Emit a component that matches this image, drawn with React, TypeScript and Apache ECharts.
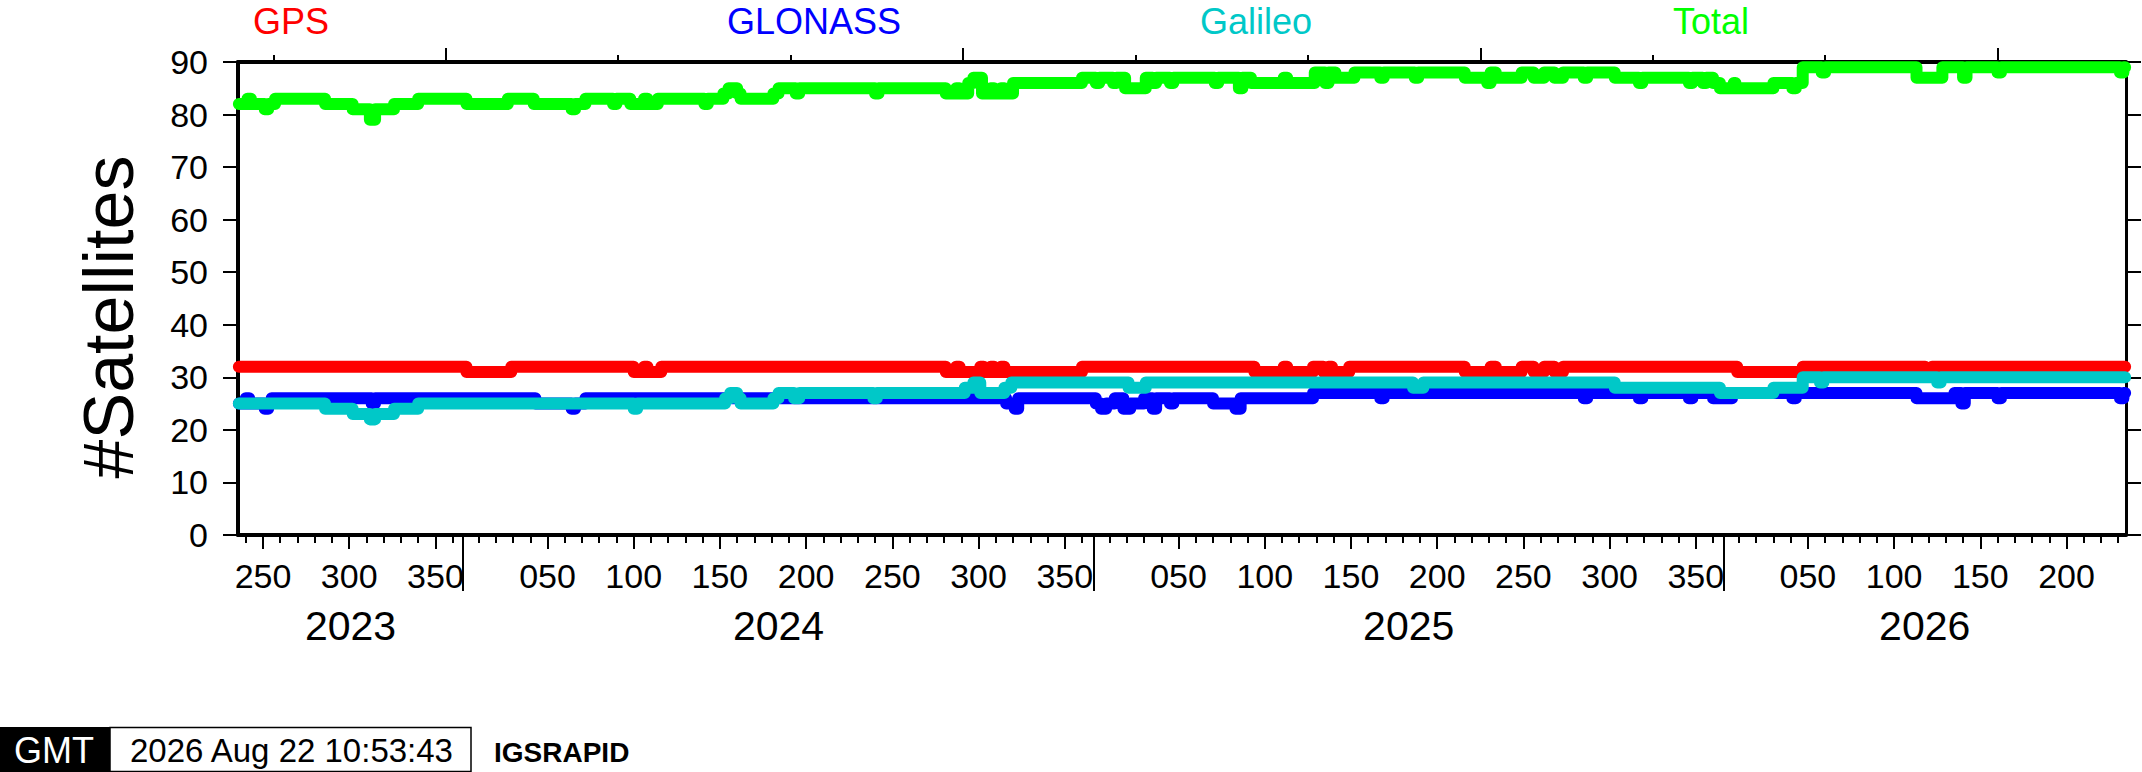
import React, { useEffect, useRef } from "react";
import * as echarts from "echarts";

const FONT = '"Liberation Sans", Helvetica, Arial, sans-serif';

// ---- axis definitions (MJD on x) ----
const YEARS = [2023, 2024, 2025, 2026];
const YEAR_START_MJD = [59945, 60310, 60676, 61041];
const X_MIN = 60179.5;
const X_MAX = 61274.5;
const Y_MIN = 0;
const Y_MAX = 90;
const Y_STEP = 10;
const DOY_LABEL_STEP = 50;
const DOY_MINOR_STEP = 10;
const TOP_MINOR_STEP = 100;
const TOP_MAJOR_STEP = 300;

const SERIES_NAMES = ["GPS", "GLONASS", "Galileo", "Total"];
const SERIES_COLORS = ["#ff0000", "#0000ff", "#00c8c8", "#00ff00"];

// ---- data: change points [MJD, number of satellites] ----
const GPS = [
  [60180, 32], [60312, 31], [60338, 32], [60409, 31], [60415, 32], [60417, 31], [60425, 32],
  [60590, 31], [60596, 32], [60598, 31], [60610, 32], [60612, 31], [60616, 32], [60618, 31],
  [60622, 32], [60624, 31], [60669, 32], [60769, 31], [60786, 32], [60788, 31], [60803, 32],
  [60809, 31], [60812, 32], [60814, 31], [60824, 32], [60891, 31], [60906, 32], [60909, 31],
  [60924, 32], [60931, 31], [60937, 32], [60943, 31], [60948, 32], [61049, 31], [61087, 32],
  [61158, 31], [61162, 32], [61274, 32],
];

const GLONASS = [
  [60180, 25], [60184, 26], [60186, 25], [60195, 24], [60197, 25], [60199, 26], [60257, 25],
  [60259, 26], [60352, 25], [60373, 24], [60375, 25], [60381, 26], [60625, 25], [60630, 24],
  [60632, 26], [60677, 25], [60680, 24], [60683, 25], [60688, 26], [60693, 24], [60697, 25],
  [60705, 26], [60710, 24], [60712, 26], [60720, 25], [60722, 26], [60745, 25], [60758, 24],
  [60761, 26], [60803, 27], [60842, 26], [60844, 27], [60960, 26], [60962, 27], [60992, 26],
  [60994, 27], [61021, 26], [61023, 27], [61035, 26], [61046, 27], [61081, 26], [61083, 27],
  [61153, 26], [61175, 27], [61179, 25], [61181, 27], [61200, 26], [61202, 27], [61271, 26],
  [61273, 27], [61274, 27],
];

const GALILEO = [
  [60180, 25], [60230, 24], [60246, 23], [60256, 22], [60259, 23], [60270, 24], [60284, 25],
  [60409, 24], [60411, 25], [60462, 26], [60465, 27], [60469, 26], [60471, 25], [60490, 26],
  [60493, 27], [60502, 26], [60505, 27], [60548, 26], [60550, 27], [60601, 28], [60606, 29],
  [60610, 27], [60624, 28], [60628, 29], [60696, 28], [60706, 29], [60861, 28], [60867, 29],
  [60978, 28], [61039, 27], [61070, 28], [61087, 30], [61097, 29], [61099, 30], [61165, 29],
  [61167, 30], [61274, 30],
];

const TOTAL = [
  [60180, 82], [60185, 83], [60187, 82], [60195, 81], [60197, 82], [60201, 83], [60230, 82],
  [60246, 81], [60256, 79], [60259, 81], [60270, 82], [60284, 83], [60312, 82], [60336, 83],
  [60351, 82], [60373, 81], [60375, 82], [60381, 83], [60397, 82], [60399, 83], [60407, 82],
  [60415, 83], [60417, 82], [60423, 83], [60450, 82], [60452, 83], [60461, 84], [60464, 85],
  [60469, 84], [60471, 83], [60490, 84], [60493, 85], [60503, 84], [60505, 85], [60549, 84],
  [60551, 85], [60590, 84], [60596, 85], [60598, 84], [60603, 86], [60606, 87], [60611, 84],
  [60616, 85], [60618, 84], [60622, 85], [60624, 84], [60629, 86], [60669, 87], [60677, 86],
  [60679, 87], [60687, 86], [60689, 87], [60694, 85], [60706, 87], [60710, 86], [60712, 87],
  [60720, 86], [60722, 87], [60746, 86], [60748, 87], [60760, 85], [60762, 87], [60767, 86],
  [60786, 87], [60788, 86], [60804, 88], [60810, 86], [60812, 88], [60816, 87], [60827, 88],
  [60842, 87], [60844, 88], [60862, 87], [60864, 88], [60891, 87], [60904, 86], [60906, 88],
  [60909, 87], [60924, 88], [60931, 87], [60937, 88], [60943, 87], [60948, 88], [60960, 87],
  [60962, 88], [60978, 87], [60992, 86], [60994, 87], [61021, 86], [61023, 87], [61029, 86],
  [61031, 87], [61035, 86], [61039, 85], [61047, 86], [61048, 85], [61070, 86], [61081, 85],
  [61083, 86], [61087, 89], [61098, 88], [61100, 89], [61153, 87], [61168, 89], [61180, 87],
  [61182, 89], [61200, 88], [61202, 89], [61271, 88], [61273, 89], [61274, 89],
];

const SERIES_DATA = [GPS, GLONASS, GALILEO, TOTAL];

// ---- helpers to build tick positions ----
const inRange = (v: number) => v >= X_MIN && v <= X_MAX;
const yearIndexOf = (v: number) => {
  let idx = 0;
  for (let i = 0; i < YEAR_START_MJD.length; i++) if (v >= YEAR_START_MJD[i]) idx = i;
  return idx;
};
const yearLength = (i: number) => (YEARS[i] % 4 === 0 ? 366 : 365);

const minorTicks: number[] = [];
const labelTicks: number[] = [];
YEAR_START_MJD.forEach((start, i) => {
  for (let doy = DOY_MINOR_STEP; doy < yearLength(i); doy += DOY_MINOR_STEP) {
    const m = start + doy - 1;
    if (!inRange(m)) continue;
    if (doy % DOY_LABEL_STEP === 0) labelTicks.push(m);
    else minorTicks.push(m);
  }
});
const yearTicks = YEAR_START_MJD.filter(inRange);
const yearLabelPos = YEAR_START_MJD.map((start, i) => {
  const end = i + 1 < YEAR_START_MJD.length ? YEAR_START_MJD[i + 1] : start + yearLength(i);
  return (Math.max(start, X_MIN) + Math.min(end, X_MAX)) / 2;
});
const topMinor: number[] = [];
const topMajor: number[] = [];
for (let m = Math.ceil(X_MIN / TOP_MINOR_STEP) * TOP_MINOR_STEP; m <= X_MAX; m += TOP_MINOR_STEP) {
  if (m % TOP_MAJOR_STEP === 0) topMajor.push(m);
  else topMinor.push(m);
}

const doyFormatter = (v: number) => {
  const i = yearIndexOf(v);
  const doy = Math.round(v - YEAR_START_MJD[i] + 1);
  return String(doy).padStart(3, "0");
};
const yearFormatter = (v: number) => String(YEARS[yearIndexOf(v)]);

const tickLine = { color: "#000", width: 2 };

export default function App() {
  const ref = useRef<HTMLDivElement>(null);

  useEffect(() => {
    if (!ref.current) return;
    const chart = echarts.init(ref.current, undefined, { renderer: "svg" });

    const baseX = {
      type: "value" as const,
      min: X_MIN,
      max: X_MAX,
      gridIndex: 0,
      splitLine: { show: false },
      offset: 0,
    };

    const legendX = [291, 814, 1256, 1711];

    const option: any = {
      animation: false,
      backgroundColor: "#fff",
      grid: { left: 238, top: 62, width: 1888, height: 473, containLabel: false },
      xAxis: [
        {
          ...baseX,
          position: "bottom",
          axisLine: { show: true, onZero: false, lineStyle: { color: "#000", width: 4 } },
          axisTick: { show: true, customValues: minorTicks, length: 8, lineStyle: tickLine },
          axisLabel: {
            show: true,
            customValues: labelTicks,
            formatter: doyFormatter,
            fontSize: 34,
            fontFamily: FONT,
            color: "#000",
            margin: 24,
          },
        },
        {
          ...baseX,
          position: "bottom",
          axisLine: { show: false, onZero: false },
          axisTick: { show: true, customValues: labelTicks, length: 14, lineStyle: tickLine },
          axisLabel: { show: false },
        },
        {
          ...baseX,
          position: "bottom",
          axisLine: { show: false, onZero: false },
          axisTick: { show: true, customValues: yearTicks, length: 56, lineStyle: tickLine },
          axisLabel: {
            show: true,
            customValues: yearLabelPos,
            formatter: yearFormatter,
            fontSize: 41,
            fontFamily: FONT,
            color: "#000",
            margin: 70,
          },
        },
        {
          ...baseX,
          position: "top",
          axisLine: { show: true, onZero: false, lineStyle: { color: "#000", width: 4 } },
          axisTick: { show: true, customValues: topMinor, length: 7, lineStyle: tickLine },
          axisLabel: { show: false },
        },
        {
          ...baseX,
          position: "top",
          axisLine: { show: false, onZero: false },
          axisTick: { show: true, customValues: topMajor, length: 14, lineStyle: tickLine },
          axisLabel: { show: false },
        },
      ],
      yAxis: [
        {
          type: "value",
          position: "left",
          min: Y_MIN,
          max: Y_MAX,
          interval: Y_STEP,
          axisLine: { show: true, onZero: false, lineStyle: { color: "#000", width: 4 } },
          axisTick: { show: true, length: 15, lineStyle: tickLine },
          axisLabel: { fontSize: 34, fontFamily: FONT, color: "#000", margin: 30 },
          splitLine: { show: false },
        },
        {
          type: "value",
          position: "right",
          min: Y_MIN,
          max: Y_MAX,
          interval: Y_STEP,
          axisLine: { show: true, onZero: false, lineStyle: { color: "#000", width: 3 } },
          axisTick: { show: true, length: 15, lineStyle: tickLine },
          axisLabel: { show: false },
          splitLine: { show: false },
        },
      ],
      series: SERIES_DATA.map((d, i) => ({
        type: "line",
        name: SERIES_NAMES[i],
        data: d,
        step: "end",
        showSymbol: false,
        symbol: "none",
        clip: true,
        z: 2 + i,
        lineStyle: { color: SERIES_COLORS[i], width: 12, cap: "round", join: "round" },
        itemStyle: { color: SERIES_COLORS[i] },
      })),
      graphic: [
        ...SERIES_NAMES.map((n, i) => ({
          type: "text",
          x: legendX[i],
          y: 21,
          style: {
            text: n,
            fill: SERIES_COLORS[i],
            fontSize: 36,
            fontFamily: FONT,
            align: "center",
            verticalAlign: "middle",
            textAlign: "center",
            textVerticalAlign: "middle",
          },
        })),
        {
          type: "text",
          x: 109,
          y: 317,
          rotation: Math.PI / 2,
          style: {
            text: "#Satellites",
            fill: "#000",
            fontSize: 70,
            fontFamily: FONT,
            align: "center",
            verticalAlign: "middle",
            textAlign: "center",
            textVerticalAlign: "middle",
          },
        },
        {
          type: "rect",
          shape: { x: 0, y: 727, width: 110, height: 45 },
          style: { fill: "#000" },
        },
        {
          type: "text",
          x: 54,
          y: 750,
          style: {
            text: "GMT",
            fill: "#fff",
            fontSize: 36,
            fontFamily: FONT,
            align: "center",
            verticalAlign: "middle",
            textAlign: "center",
            textVerticalAlign: "middle",
          },
        },
        {
          type: "rect",
          shape: { x: 110, y: 727.5, width: 361, height: 44 },
          style: { fill: "#fff", stroke: "#000", lineWidth: 1.5 },
        },
        {
          type: "text",
          x: 130,
          y: 750,
          style: {
            text: "2026 Aug 22 10:53:43",
            fill: "#000",
            fontSize: 33,
            fontFamily: FONT,
            align: "left",
            verticalAlign: "middle",
            textAlign: "left",
            textVerticalAlign: "middle",
          },
        },
        {
          type: "text",
          x: 494,
          y: 752,
          style: {
            text: "IGSRAPID",
            fill: "#000",
            fontSize: 28,
            fontWeight: "bold",
            fontFamily: FONT,
            align: "left",
            verticalAlign: "middle",
            textAlign: "left",
            textVerticalAlign: "middle",
          },
        },
      ],
    };

    chart.setOption(option);
    return () => chart.dispose();
  }, []);

  return (
    <div
      ref={ref}
      style={{ position: "fixed", left: 0, top: 0, width: 2142, height: 772, background: "#fff" }}
    />
  );
}
